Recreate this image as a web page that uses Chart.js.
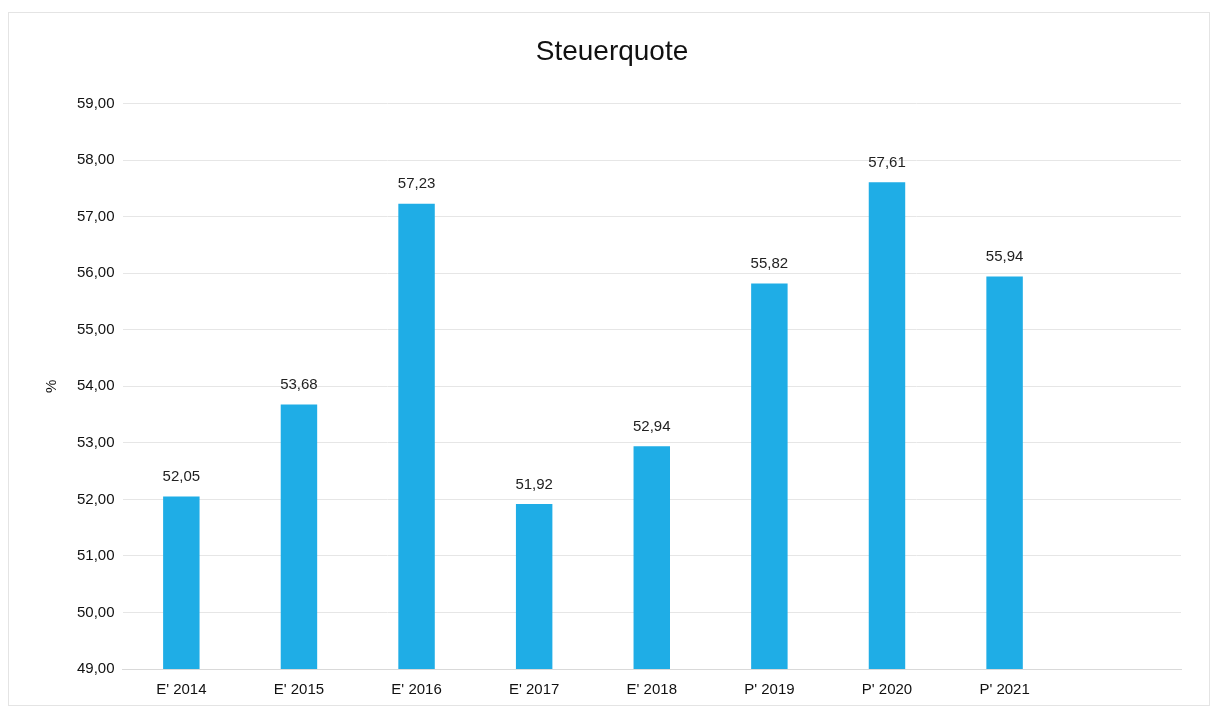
<!DOCTYPE html>
<html>
<head>
<meta charset="utf-8">
<script src="https://cdn.jsdelivr.net/npm/chart.js@4/dist/chart.umd.min.js"></script>
<style>
html,body{margin:0;padding:0;background:#fff;}
#wrap{position:absolute;left:0;top:0;width:1218px;height:711px;}
#frame{position:absolute;left:8px;top:12px;width:1202px;height:694px;border:1px solid #e4e4e4;box-sizing:border-box;pointer-events:none;}
</style>
</head>
<body>
<div id="wrap"><canvas id="c" width="1218" height="711"></canvas></div>
<div id="frame"></div>
<script>
const categories = ["E' 2014","E' 2015","E' 2016","E' 2017","E' 2018","P' 2019","P' 2020","P' 2021",""];
const steuerquote = [52.05, 53.68, 57.23, 51.92, 52.94, 55.82, 57.61, 55.94, null];
const yMin = 49, yMax = 59, yStep = 1;

const fmt = v => v.toFixed(2).replace('.', ',');

const valueLabels = {
  id: 'valueLabels',
  afterDatasetsDraw(chart) {
    const ctx = chart.ctx;
    const meta = chart.getDatasetMeta(0);
    ctx.save();
    ctx.font = '15px "Liberation Sans", Arial, sans-serif';
    ctx.fillStyle = '#222';
    ctx.textAlign = 'center';
    ctx.textBaseline = 'bottom';
    meta.data.forEach((bar, i) => {
      const v = chart.data.datasets[0].data[i];
      if (v == null) return;
      ctx.fillText(fmt(v), bar.x, bar.y - 12);
    });
    ctx.restore();
  }
};

new Chart(document.getElementById('c'), {
  type: 'bar',
  data: {
    labels: categories,
    datasets: [{
      data: steuerquote,
      backgroundColor: '#1FADE6',
      borderWidth: 0,
      barPercentage: 0.31,
      categoryPercentage: 1.0
    }]
  },
  options: {
    responsive: false,
    animation: false,
    layout: { padding: { left: 43, right: 37, top: 10, bottom: 0 } },
    plugins: {
      legend: { display: false },
      tooltip: { enabled: false },
      title: {
        display: true,
        text: 'Steuerquote',
        color: '#111',
        font: { family: '"Liberation Sans", Arial, sans-serif', size: 28, weight: 'normal' },
        padding: { top: 25, bottom: 35 }
      }
    },
    scales: {
      x: {
        grid: { display: false, drawTicks: false },
        border: { display: true, color: '#d9d9d9' },
        ticks: {
          color: '#111',
          font: { family: '"Liberation Sans", Arial, sans-serif', size: 15 },
          padding: 12,
          maxRotation: 0
        }
      },
      y: {
        min: yMin, max: yMax,
        border: { display: false },
        grid: { color: '#e6e6e6', drawTicks: false },
        ticks: {
          stepSize: yStep,
          color: '#111',
          font: { family: '"Liberation Sans", Arial, sans-serif', size: 15 },
          padding: 8,
          callback: v => fmt(v)
        },
        title: {
          display: true,
          text: '%',
          color: '#111',
          font: { family: '"Liberation Sans", Arial, sans-serif', size: 15 },
          padding: { top: 0, bottom: 8 }
        }
      }
    }
  },
  plugins: [valueLabels]
});
</script>
</body>
</html>
